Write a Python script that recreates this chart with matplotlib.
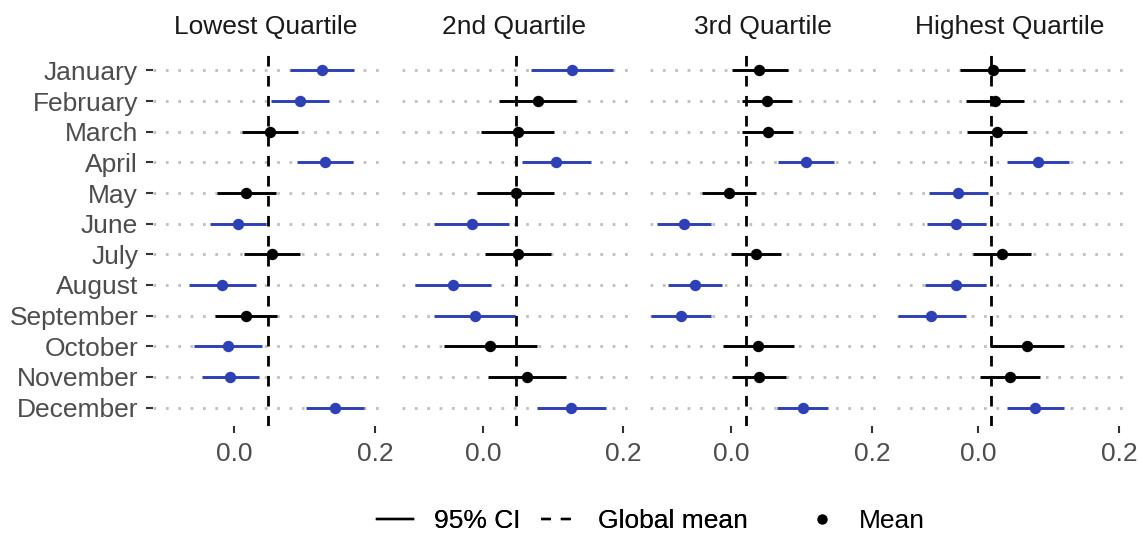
import matplotlib
matplotlib.use("Agg")
import matplotlib.pyplot as plt
from matplotlib.lines import Line2D

plt.rcParams['font.family'] = ['Liberation Sans', 'DejaVu Sans']

months = ["January", "February", "March", "April", "May", "June", "July",
          "August", "September", "October", "November", "December"]
quartiles = ["Lowest Quartile", "2nd Quartile", "3rd Quartile", "Highest Quartile"]

global_means = [0.0484, 0.0473, 0.0209, 0.0175]

q1_mean = [0.1242, 0.0934, 0.0507, 0.1289, 0.0171, 0.0048, 0.0536, -0.0170, 0.0166, -0.0090, -0.0057, 0.1431]
q1_lo   = [0.0792, 0.0517, 0.0105, 0.0891, -0.0250, -0.0345, 0.0142, -0.0644, -0.0270, -0.0573, -0.0464, 0.1019]
q1_hi   = [0.1706, 0.1346, 0.0901, 0.1683, 0.0588, 0.0450, 0.0934, 0.0304, 0.0602, 0.0394, 0.0351, 0.1839]

q2_mean = [0.1268, 0.0780, 0.0497, 0.1045, 0.0468, -0.0160, 0.0502, -0.0420, -0.0108, 0.0109, 0.0630, 0.1258]
q2_lo   = [0.0691, 0.0237, -0.0023, 0.0563, -0.0080, -0.0699, 0.0038, -0.0964, -0.0695, -0.0553, 0.0081, 0.0776]
q2_hi   = [0.1858, 0.1325, 0.1017, 0.1532, 0.1013, 0.0379, 0.0970, 0.0123, 0.0462, 0.0771, 0.1182, 0.1745]

q3_mean = [0.0398, 0.0502, 0.0516, 0.1056, -0.0033, -0.0673, 0.0346, -0.0516, -0.0711, 0.0384, 0.0389, 0.1014]
q3_lo   = [0.0010, 0.0147, 0.0152, 0.0658, -0.0417, -0.1056, -0.0010, -0.0896, -0.1137, -0.0114, 0.0005, 0.0654]
q3_hi   = [0.0800, 0.0863, 0.0881, 0.1454, 0.0346, -0.0294, 0.0706, -0.0137, -0.0284, 0.0886, 0.0777, 0.1374]

q4_mean = [0.0204, 0.0232, 0.0270, 0.0853, -0.0284, -0.0313, 0.0341, -0.0322, -0.0673, 0.0697, 0.0455, 0.0800]
q4_lo   = [-0.0256, -0.0175, -0.0156, 0.0408, -0.0701, -0.0735, -0.0071, -0.0763, -0.1147, 0.0172, 0.0019, 0.0403]
q4_hi   = [0.0664, 0.0650, 0.0692, 0.1294, 0.0138, 0.0114, 0.0749, 0.0114, -0.0180, 0.1222, 0.0881, 0.1213]

means = [q1_mean, q2_mean, q3_mean, q4_mean]
los = [q1_lo, q2_lo, q3_lo, q4_lo]
his = [q1_hi, q2_hi, q3_hi, q4_hi]

x_ticks = [0.0, 0.2]
x_ticklabels = ["0.0", "0.2"]

BLUE = "#2E40B5"
FS = 19
W, H = 1138, 533
fig = plt.figure(figsize=(W / 100, H / 100), dpi=100)

panel_left = [153, 401.5, 650, 897]
panel_w = 226
top_px, bot_px = 52, 426

for k in range(4):
    ax = fig.add_axes([panel_left[k] / W, 1 - bot_px / H, panel_w / W, (bot_px - top_px) / H])
    ys = list(range(len(months)))
    gm = global_means[k]
    for i in ys:
        lo, hi, m = los[k][i], his[k][i], means[k][i]
        col = BLUE if (lo > gm or hi < gm) else "black"
        ax.plot([lo, hi], [i, i], color=col, lw=2.1, solid_capstyle='butt', zorder=3)
        ax.plot([m], [i], 'o', color=col, ms=8.2, mec='none', zorder=4)
    ax.axvline(gm, color='black', lw=2.0, linestyle=(0, (3.8, 3.4)), zorder=2)
    ax.set_xlim(-0.1155, 0.2057)
    ax.set_ylim(len(months) - 0.4, -0.6)
    ax.set_yticks(ys)
    ax.grid(axis='y', color='#C0C0C0', lw=2.0, linestyle=(0, (1, 3.45)), zorder=1)
    ax.grid(axis='x', visible=False)
    ax.set_axisbelow(True)
    for s in ax.spines.values():
        s.set_visible(False)
    ax.set_xticks(x_ticks)
    ax.set_xticklabels(x_ticklabels)
    ax.tick_params(axis='both', colors='#333333', length=4.7, width=1.5, labelsize=FS,
                   labelcolor='#4D4D4D')
    ax.tick_params(axis='x', pad=6.5)
    ax.tick_params(axis='y', pad=6)
    if k == 0:
        ax.set_yticklabels(months)
    else:
        ax.set_yticklabels([])
        ax.tick_params(axis='y', length=0)
    ax.set_title(quartiles[k], fontsize=FS, color='#1A1A1A', pad=13)

line_handles = [
    Line2D([0], [0], color='black', lw=1.7),
    Line2D([0], [0], color='black', lw=1.7, linestyle=(0, (4.2, 4.2))),
]
leg1 = fig.legend(line_handles, ["95% CI", "Global mean"], loc='center left',
                  bbox_to_anchor=(377 / W, 1 - 521 / H), ncol=2, frameon=False,
                  fontsize=FS, handlelength=1.36, handletextpad=0.8, columnspacing=0.76,
                  borderpad=0, borderaxespad=0)
pt_handle = [Line2D([0], [0], color='black', marker='o', ms=7.5, lw=0, mec='none')]
leg2 = fig.legend(pt_handle, ["Mean"], loc='center left',
                  bbox_to_anchor=(804 / W, 1 - 521 / H), frameon=False,
                  fontsize=FS, handlelength=1.36, handletextpad=0.72,
                  borderpad=0, borderaxespad=0)
fig.add_artist(leg1)

fig.savefig("out.png", dpi=100)
